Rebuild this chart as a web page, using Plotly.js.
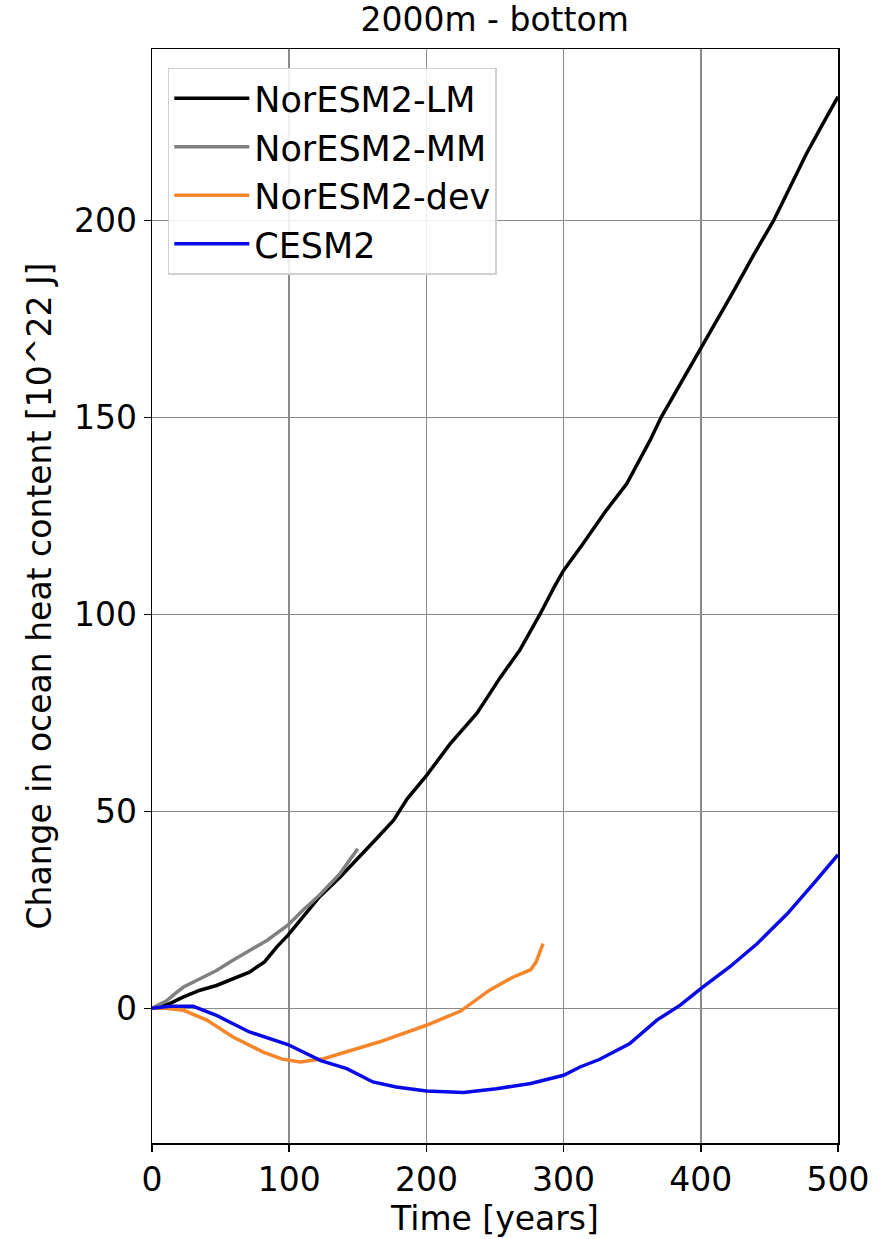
<!DOCTYPE html>
<html>
<head>
<meta charset="utf-8">
<script src="https://cdn.plot.ly/plotly-3.0.1.min.js"></script>
<style>html,body{margin:0;padding:0;background:#fff;}#chart{width:888px;height:1239px;}</style>
</head>
<body>
<div id="chart"></div>
<script>
// NorESM2-LM
const lmYears = [0,5,13,23,35,47,59,71,82,91,99,110,122,137,149,162,176,186,200,217,237,254,268,283,293,300,314,331,346,363,371,385,400,412,424,438,453,465,477,488,500];
const lmValues = [0,0.5,1.2,2.9,4.6,5.8,7.5,9.2,11.8,15.6,18.5,23.2,28.3,33.3,37.6,42.5,47.7,53.2,59.1,67,75,84.1,90.9,100.2,106.9,111.2,117.9,126.4,133.2,144.2,150,158.5,167.4,175,182.2,191,200,208.5,217,224,231.5];
// NorESM2-MM
const mmYears = [0,5,11,17,23,35,47,59,71,84,99,110,122,137,150];
const mmValues = [0,0.8,2,3.8,5.4,7.5,9.6,12.2,14.7,17.3,21.1,24.9,28.7,34.2,40.5];
// NorESM2-dev
const devYears = [0,10,23,40,59,81,95,108,125,142,166,200,225,246,263,276,280,285];
const devValues = [0,0,-0.5,-3,-7.3,-11.1,-12.9,-13.6,-12.8,-11.1,-8.5,-4.3,-0.7,4.6,7.9,9.8,11.8,16.4];
// CESM2
const cesmYears = [0,13,30,47,71,99,123,142,161,178,200,227,251,276,300,312,326,348,368,385,400,421,441,463,482,500];
const cesmValues = [0,0.5,0.5,-1.8,-6,-9.2,-13.3,-15.3,-18.7,-20,-21,-21.4,-20.4,-19.1,-17,-14.9,-13,-9,-3,0.8,5,10.5,16.4,24,31.6,39];

const seriesNames = ["NorESM2-LM","NorESM2-MM","NorESM2-dev","CESM2"];
const xTicks = [0,100,200,300,400,500];
const yTicks = [0,50,100,150,200];

const FONT = "DejaVu Sans";
const FS = 33;

const traces = [
  {x: lmYears, y: lmValues, name: seriesNames[0], line: {color: "#000000", width: 3.5}},
  {x: mmYears, y: mmValues, name: seriesNames[1], line: {color: "#808080", width: 3.5}},
  {x: devYears, y: devValues, name: seriesNames[2], line: {color: "#f5862a", width: 3.5}},
  {x: cesmYears, y: cesmValues, name: seriesNames[3], line: {color: "#0a0ae6", width: 3.5}}
].map(t => Object.assign({type: "scatter", mode: "lines", line_shape: "linear"}, t));

const layout = {
  width: 888, height: 1239,
  margin: {l: 152, r: 50, t: 49, b: 96},
  paper_bgcolor: "#ffffff", plot_bgcolor: "#ffffff",
  font: {family: FONT, size: FS, color: "#000"},
  title: {text: "2000m - bottom", font: {family: FONT, size: FS, color: "#000"}, x: 0.557, xanchor: "center", y: 0.984, yanchor: "middle"},
  showlegend: true,
  legend: {
    x: 0.023, y: 0.983, xanchor: "left", yanchor: "top",
    bgcolor: "rgba(255,255,255,0.85)", bordercolor: "#d0d0d0", borderwidth: 1.5,
    font: {family: FONT, size: 35, color: "#000"},
    itemwidth: 75, tracegroupgap: 0
  },
  xaxis: {
    range: [0, 500], tickvals: xTicks, ticktext: xTicks.map(String),
    showgrid: true, gridcolor: "#8a8a8a", gridwidth: 1.5, zeroline: false,
    showline: true, mirror: true, linecolor: "#000", linewidth: 1.5,
    ticks: "outside", ticklen: 7, tickwidth: 1.5, tickcolor: "#000",
    tickfont: {family: FONT, size: FS, color: "#000"},
    title: {text: "Time [years]", font: {family: FONT, size: FS, color: "#000"}, standoff: 8},
    automargin: false
  },
  yaxis: {
    range: [-34.2, 243.6], tickvals: yTicks, ticktext: yTicks.map(String),
    showgrid: true, gridcolor: "#8a8a8a", gridwidth: 1.5, zeroline: false,
    showline: true, mirror: true, linecolor: "#000", linewidth: 1.5,
    ticks: "outside", ticklen: 7, tickwidth: 1.5, tickcolor: "#000",
    tickfont: {family: FONT, size: FS, color: "#000"},
    title: {text: "Change in ocean heat content [10^22 J]", font: {family: FONT, size: FS, color: "#000"}, standoff: 12},
    automargin: false
  }
};

Plotly.newPlot("chart", traces, layout, {staticPlot: true, displayModeBar: false});
</script>
</body>
</html>
